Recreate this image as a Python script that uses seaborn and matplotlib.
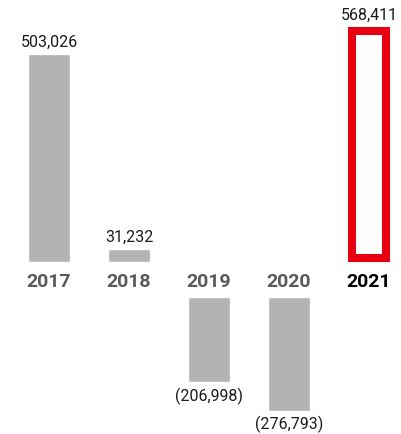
import matplotlib
matplotlib.use("Agg")
import matplotlib.pyplot as plt
import seaborn as sns
import pandas as pd

# Annual results, thousands
years = ["2017", "2018", "2019", "2020", "2021"]
values = [503026, 31232, -206998, -276793, 568411]
value_labels = ["503,026", "31,232", "(206,998)", "(276,793)", "568,411"]

GRAY = "#b3b3b3"
RED = "#e60012"
YEAR_GRAY = "#5a5a5a"

sns.set_style("white")
plt.rcParams["font.family"] = ["Roboto", "DejaVu Sans"]

W, H, DPI = 401, 435, 100
fig = plt.figure(figsize=(W / DPI, H / DPI), dpi=DPI)
ax = fig.add_axes([0, 0, 1, 1])

df = pd.DataFrame({"year": years, "value": values})
sns.barplot(data=df, x="year", y="value", color=GRAY, saturation=1,
            width=0.525, errorbar=None, ax=ax)

# pixel-based scale of the axes
PX_X = 80.0          # pixels per category
U = 2415.0           # data units per pixel
x0_px, base_px = 49.0, 263.0
ax.set_xlim(-x0_px / PX_X, (W - x0_px) / PX_X)
ax.set_ylim(-(H - base_px) * U, base_px * U)

gap = 34.6 * U       # band between positive and negative bars for year labels
lw_px = 8.0

for i, (p, v) in enumerate(zip(ax.patches, values)):
    if v < 0:
        p.set_y(-gap)
    if years[i] == "2021":
        # outlined bar; keep the outline inside the bar's footprint
        p.set_facecolor("white")
        p.set_edgecolor(RED)
        p.set_linewidth(lw_px * 72 / DPI)
        p.set_joinstyle("miter")
        half_x = lw_px / 2 / PX_X
        half_y = lw_px / 2 * U
        p.set_x(p.get_x() + half_x)
        p.set_width(p.get_width() - 2 * half_x)
        p.set_y(p.get_y() + half_y)
        p.set_height(p.get_height() - 2 * half_y)

for i, (v, lab) in enumerate(zip(values, value_labels)):
    if v >= 0:
        ax.text(i, v + 5 * U, lab, ha="center", va="bottom",
                fontsize=11.5, color="#1a1a1a")
    else:
        ax.text(i, -gap + v - 4 * U, lab, ha="center", va="top",
                fontsize=11.5, color="#1a1a1a")
    ax.text(i, -18.7 * U, years[i], ha="center", va="center",
            fontsize=14, fontweight="bold",
            color="black" if years[i] == "2021" else YEAR_GRAY)

ax.axis("off")
fig.savefig("out.png", dpi=DPI)
